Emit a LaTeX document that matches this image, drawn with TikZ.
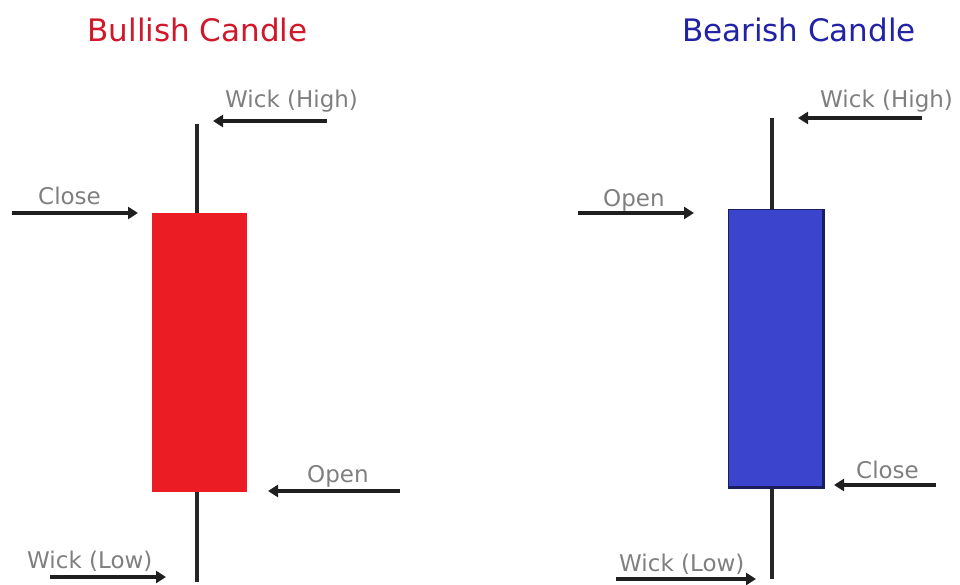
\documentclass[tikz,border=0pt]{standalone}
\usepackage{fontspec}
\setmainfont{DejaVu Sans}
\usetikzlibrary{arrows.meta}
\definecolor{bullred}{HTML}{EC1C24}
\definecolor{bulltitle}{HTML}{D0182A}
\definecolor{bearblue}{HTML}{3A44CC}
\definecolor{bearedge}{HTML}{1A1F5C}
\definecolor{beartitle}{HTML}{2222A6}
\definecolor{labelgray}{HTML}{7F7F7F}
\tikzset{
  title/.style={font=\fontsize{31}{36}\selectfont, anchor=base, inner sep=0pt},
  lbl/.style={font=\fontsize{23}{28}\selectfont, text=labelgray, anchor=base west, inner sep=0pt},
  pointer/.style={line width=3.4pt, -{Triangle[length=10pt,width=12pt]}, black!88},
  wick/.style={line width=3.6pt, black!85}
}
\begin{document}
\begin{tikzpicture}[x=1pt,y=-1pt]
\useasboundingbox (0,0) rectangle (960,585);

% titles
\node[title, text=bulltitle] (tbull) at (197.5,42) {Bullish Candle};
\node[title, text=beartitle] (tbear) at (799,42) {Bearish Candle};

% bullish candle: wick and body
\coordinate (bwtop) at (197,124);
\coordinate (bwbot) at (197,582);
\draw[wick] (bwtop) -- (bwbot);
\fill[bullred] (152,213) rectangle (247,492);

% bearish candle: wick and body, darker rim on the shaded sides
\coordinate (rwtop) at (772,118);
\coordinate (rwbot) at (772,579);
\draw[wick] (rwtop) -- (rwbot);
\filldraw[fill=bearblue, draw=bearedge, line width=1pt] (728,210) rectangle (824,488);
\draw[bearedge, line width=2.4pt] (728,487.5) -- (823.5,487.5) -- (823.5,210);

% bullish labels
\node[lbl] (bhigh) at (225,108) {Wick (High)};
\node[lbl] (bclose) at (38,205) {Close};
\node[lbl] (bopen) at (307,482) {Open};
\node[lbl] (blow) at (27,568) {Wick (Low)};

% bearish labels
\node[lbl] (rhigh) at (820,108) {Wick (High)};
\node[lbl] (ropen) at (603,207) {Open};
\node[lbl] (rclose) at (856,478) {Close};
\node[lbl] (rlow) at (619,571) {Wick (Low)};

% bullish pointers
\coordinate (bhighA) at (327,121); \coordinate (bhighB) at (213,121);
\coordinate (bcloseA) at (12,213); \coordinate (bcloseB) at (138,213);
\coordinate (bopenA) at (400,491); \coordinate (bopenB) at (268,491);
\coordinate (blowA) at (50,577); \coordinate (blowB) at (166,577);
\draw[pointer] (bhighA) -- (bhighB);
\draw[pointer] (bcloseA) -- (bcloseB);
\draw[pointer] (bopenA) -- (bopenB);
\draw[pointer] (blowA) -- (blowB);

% bearish pointers
\coordinate (rhighA) at (922,118); \coordinate (rhighB) at (798,118);
\coordinate (ropenA) at (578,213); \coordinate (ropenB) at (694,213);
\coordinate (rcloseA) at (936,485); \coordinate (rcloseB) at (834,485);
\coordinate (rlowA) at (616,579); \coordinate (rlowB) at (756,579);
\draw[pointer] (rhighA) -- (rhighB);
\draw[pointer] (ropenA) -- (ropenB);
\draw[pointer] (rcloseA) -- (rcloseB);
\draw[pointer] (rlowA) -- (rlowB);
\end{tikzpicture}
\end{document}
